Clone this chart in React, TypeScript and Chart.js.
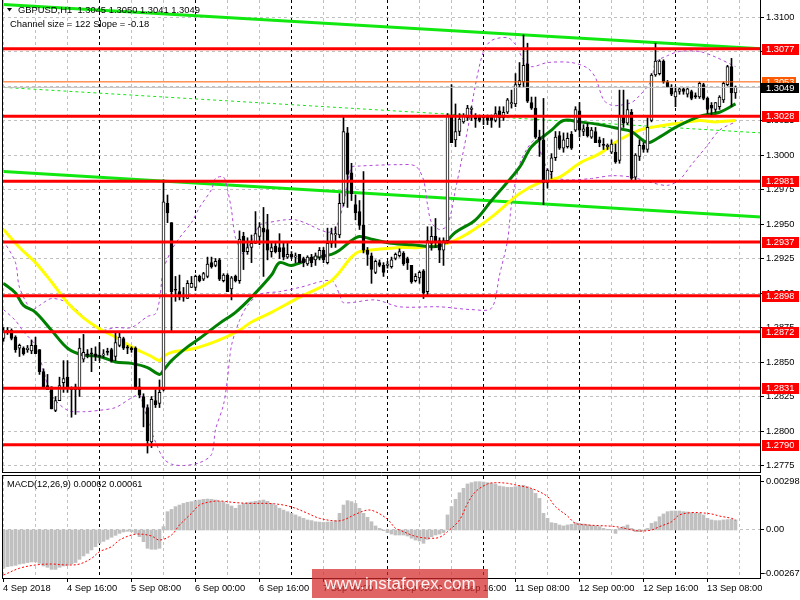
import React, { useEffect, useRef } from "react";
import { Chart, registerables } from "chart.js";

Chart.register(...registerables);

const FONT = '"Liberation Sans", Arial, sans-serif';

// ---------- price data (H1 candles, bar 0 = 4 Sep 00:00) ----------
const OPEN = [
  1.2867, 1.2872, 1.2873, 1.2868, 1.2860, 1.2860, 1.2859, 1.2858, 1.2862, 1.2859,
  1.2843, 1.2833, 1.2832, 1.2815, 1.2822, 1.2835, 1.2839, 1.2831, 1.2832, 1.2830,
  1.2852, 1.2856, 1.2856, 1.2856, 1.2854, 1.2855, 1.2857, 1.2859, 1.2854, 1.2862,
  1.2867, 1.2861, 1.2860, 1.2860, 1.2832, 1.2825, 1.2817, 1.2792, 1.2822, 1.2820,
  1.2830, 1.2965, 1.2951, 1.2902, 1.2901, 1.2898, 1.2896, 1.2904, 1.2904, 1.2912,
  1.2910, 1.2912, 1.2922, 1.2920, 1.2924, 1.2909, 1.2913, 1.2903, 1.2912, 1.2909,
  1.2941, 1.2930, 1.2933, 1.2936, 1.2941, 1.2947, 1.2946, 1.2930, 1.2934, 1.2933,
  1.2933, 1.2926, 1.2928, 1.2926, 1.2928, 1.2925, 1.2921, 1.2926, 1.2924, 1.2926,
  1.2931, 1.2922, 1.2936, 1.2942, 1.2942, 1.2965, 1.3016, 1.2987, 1.2964, 1.2959,
  1.2949, 1.2931, 1.2927, 1.2915, 1.2922, 1.2920, 1.2920, 1.2919, 1.2925, 1.2927,
  1.2929, 1.2925, 1.2920, 1.2909, 1.2911, 1.2916, 1.2901, 1.2936, 1.2941, 1.2938,
  1.2931, 1.2938, 1.3029, 1.3011, 1.3017, 1.3024, 1.3027, 1.3033, 1.3028, 1.3028,
  1.3027, 1.3028, 1.3028, 1.3025, 1.3032, 1.3027, 1.3031, 1.3037, 1.3037, 1.3051,
  1.3053, 1.3066, 1.3038, 1.3034, 1.3013, 1.3011, 1.2980, 1.2988, 1.2998, 1.3014,
  1.3005, 1.3006, 1.3015, 1.3018, 1.3032, 1.3017, 1.3020, 1.3013, 1.3017, 1.3011,
  1.3007, 1.3006, 1.3002, 1.3002, 1.2996, 1.3028, 1.3023, 1.3031, 1.2984, 1.2999,
  1.3007, 1.3004, 1.3025, 1.3058, 1.3059, 1.3068, 1.3053, 1.3049, 1.3042, 1.3046,
  1.3048, 1.3044, 1.3046, 1.3043, 1.3042, 1.3051, 1.3041, 1.3036, 1.3033, 1.3035,
  1.3040, 1.3051, 1.3064, 1.3045,
];
const HIGH = [
  1.2875, 1.2875, 1.2874, 1.2869, 1.2863, 1.2861, 1.2862, 1.2866, 1.2868, 1.2859,
  1.2845, 1.2841, 1.2832, 1.2825, 1.2839, 1.2851, 1.2851, 1.2832, 1.2834, 1.2867,
  1.2870, 1.2859, 1.2860, 1.2861, 1.2864, 1.2859, 1.2860, 1.2860, 1.2871, 1.2871,
  1.2868, 1.2862, 1.2861, 1.2861, 1.2838, 1.2827, 1.2819, 1.2825, 1.2830, 1.2837,
  1.2982, 1.2971, 1.2951, 1.2912, 1.2913, 1.2904, 1.2909, 1.2912, 1.2913, 1.2913,
  1.2915, 1.2926, 1.2926, 1.2925, 1.2925, 1.2914, 1.2914, 1.2912, 1.2913, 1.2945,
  1.2944, 1.2940, 1.2942, 1.2959, 1.2951, 1.2962, 1.2957, 1.2937, 1.2936, 1.2943,
  1.2937, 1.2936, 1.2930, 1.2929, 1.2928, 1.2926, 1.2927, 1.2928, 1.2929, 1.2933,
  1.2933, 1.2947, 1.2947, 1.2948, 1.2972, 1.3028, 1.3020, 1.2994, 1.2971, 1.2967,
  1.2988, 1.2933, 1.2929, 1.2924, 1.2924, 1.2922, 1.2923, 1.2926, 1.2929, 1.2932,
  1.2930, 1.2926, 1.2920, 1.2914, 1.2916, 1.2917, 1.2948, 1.2948, 1.2954, 1.2940,
  1.2940, 1.3030, 1.3051, 1.3037, 1.3030, 1.3030, 1.3036, 1.3035, 1.3030, 1.3029,
  1.3028, 1.3029, 1.3029, 1.3035, 1.3035, 1.3035, 1.3041, 1.3047, 1.3059, 1.3067,
  1.3087, 1.3081, 1.3042, 1.3042, 1.3018, 1.3041, 1.2990, 1.3001, 1.3017, 1.3017,
  1.3016, 1.3016, 1.3017, 1.3035, 1.3038, 1.3022, 1.3023, 1.3020, 1.3020, 1.3013,
  1.3012, 1.3008, 1.3011, 1.3008, 1.3047, 1.3047, 1.3040, 1.3033, 1.3001, 1.3011,
  1.3009, 1.3027, 1.3059, 1.3081, 1.3069, 1.3069, 1.3054, 1.3051, 1.3049, 1.3049,
  1.3049, 1.3049, 1.3047, 1.3045, 1.3053, 1.3052, 1.3042, 1.3038, 1.3038, 1.3043,
  1.3053, 1.3065, 1.3070, 1.3050,
];
const LOW = [
  1.2865, 1.2870, 1.2866, 1.2857, 1.2854, 1.2855, 1.2857, 1.2856, 1.2856, 1.2841,
  1.2831, 1.2830, 1.2816, 1.2814, 1.2822, 1.2828, 1.2828, 1.2810, 1.2812, 1.2825,
  1.2850, 1.2853, 1.2843, 1.2851, 1.2851, 1.2853, 1.2855, 1.2850, 1.2851, 1.2861,
  1.2859, 1.2856, 1.2857, 1.2830, 1.2824, 1.2803, 1.2784, 1.2788, 1.2817, 1.2817,
  1.2829, 1.2951, 1.2872, 1.2894, 1.2895, 1.2894, 1.2896, 1.2904, 1.2902, 1.2908,
  1.2909, 1.2911, 1.2918, 1.2919, 1.2909, 1.2908, 1.2901, 1.2895, 1.2908, 1.2907,
  1.2917, 1.2928, 1.2922, 1.2936, 1.2935, 1.2912, 1.2924, 1.2926, 1.2929, 1.2925,
  1.2924, 1.2925, 1.2925, 1.2922, 1.2922, 1.2919, 1.2920, 1.2919, 1.2920, 1.2924,
  1.2922, 1.2921, 1.2933, 1.2933, 1.2940, 1.2963, 1.2962, 1.2967, 1.2953, 1.2946,
  1.2929, 1.2920, 1.2907, 1.2914, 1.2919, 1.2912, 1.2918, 1.2918, 1.2924, 1.2926,
  1.2920, 1.2917, 1.2907, 1.2908, 1.2907, 1.2896, 1.2898, 1.2931, 1.2933, 1.2922,
  1.2920, 1.2936, 1.3009, 1.3006, 1.3014, 1.3023, 1.3025, 1.3025, 1.3020, 1.3024,
  1.3022, 1.3022, 1.3020, 1.3024, 1.3020, 1.3025, 1.3030, 1.3034, 1.3035, 1.3049,
  1.3049, 1.3038, 1.3033, 1.3012, 1.2999, 1.2964, 1.2976, 1.2983, 1.2996, 1.3004,
  1.3002, 1.3005, 1.3004, 1.3017, 1.3013, 1.3014, 1.3013, 1.3012, 1.3009, 1.3006,
  1.3004, 1.3004, 1.3001, 1.2994, 1.2994, 1.3020, 1.3022, 1.2982, 1.2982, 1.2996,
  1.3002, 1.3002, 1.3024, 1.3057, 1.3058, 1.3052, 1.3049, 1.3043, 1.3035, 1.3044,
  1.3044, 1.3042, 1.3040, 1.3041, 1.3041, 1.3040, 1.3030, 1.3029, 1.3031, 1.3033,
  1.3038, 1.3050, 1.3035, 1.3041,
];
const CLOSE = [
  1.2872, 1.2873, 1.2867, 1.2859, 1.2862, 1.2856, 1.2860, 1.2862, 1.2856, 1.2843,
  1.2832, 1.2830, 1.2816, 1.2822, 1.2833, 1.2838, 1.2831, 1.2830, 1.2830, 1.2860,
  1.2857, 1.2855, 1.2856, 1.2854, 1.2854, 1.2856, 1.2857, 1.2851, 1.2864, 1.2868,
  1.2860, 1.2860, 1.2859, 1.2831, 1.2826, 1.2817, 1.2793, 1.2823, 1.2819, 1.2828,
  1.2966, 1.2958, 1.2901, 1.2902, 1.2897, 1.2897, 1.2907, 1.2907, 1.2912, 1.2909,
  1.2914, 1.2921, 1.2919, 1.2923, 1.2910, 1.2913, 1.2901, 1.2911, 1.2909, 1.2939,
  1.2930, 1.2933, 1.2936, 1.2943, 1.2948, 1.2944, 1.2931, 1.2933, 1.2930, 1.2930,
  1.2926, 1.2928, 1.2926, 1.2927, 1.2922, 1.2922, 1.2926, 1.2922, 1.2927, 1.2931,
  1.2924, 1.2936, 1.2943, 1.2943, 1.2965, 1.3017, 1.2986, 1.2972, 1.2958, 1.2949,
  1.2931, 1.2928, 1.2917, 1.2923, 1.2920, 1.2915, 1.2921, 1.2924, 1.2928, 1.2930,
  1.2921, 1.2922, 1.2908, 1.2912, 1.2915, 1.2900, 1.2938, 1.2941, 1.2937, 1.2931,
  1.2938, 1.3029, 1.3009, 1.3017, 1.3026, 1.3028, 1.3034, 1.3034, 1.3026, 1.3025,
  1.3027, 1.3025, 1.3025, 1.3030, 1.3027, 1.3031, 1.3040, 1.3038, 1.3051, 1.3054,
  1.3065, 1.3039, 1.3034, 1.3013, 1.3011, 1.2980, 1.2989, 1.2998, 1.3013, 1.3005,
  1.3011, 1.3012, 1.3005, 1.3033, 1.3018, 1.3019, 1.3014, 1.3018, 1.3009, 1.3009,
  1.3007, 1.3007, 1.3008, 1.2995, 1.3028, 1.3023, 1.3033, 1.2983, 1.3000, 1.3007,
  1.3004, 1.3020, 1.3058, 1.3068, 1.3068, 1.3053, 1.3049, 1.3044, 1.3046, 1.3048,
  1.3046, 1.3048, 1.3041, 1.3042, 1.3052, 1.3041, 1.3033, 1.3034, 1.3038, 1.3042,
  1.3052, 1.3064, 1.3045, 1.3049,
];

// ---------- indicators: [bar, value] ----------
const SLOW_MA: [number, number][] = [
  [0, 1.2946], [4, 1.2933], [8, 1.2922], [12, 1.2908], [16, 1.2893], [20, 1.2882],
  [24, 1.2874], [28, 1.2868], [32, 1.2861], [37, 1.2854], [39, 1.2851], [40, 1.2854],
  [42, 1.2857], [48, 1.2860], [54, 1.2866], [59, 1.2873], [62, 1.2879], [67, 1.2886],
  [74, 1.2897], [82, 1.2909], [87, 1.2926], [89, 1.2930], [95, 1.2932], [99, 1.2933],
  [104, 1.2933], [111, 1.2936], [116, 1.2943], [122, 1.2955], [129, 1.2972], [134, 1.2980],
  [139, 1.2984], [144, 1.2994], [149, 1.3001], [154, 1.3011], [159, 1.3018], [162, 1.3020],
  [166, 1.3022], [169, 1.3023], [174, 1.3025], [178, 1.3024], [183, 1.3025],
];
const FAST_MA: [number, number][] = [
  [0, 1.2907], [3, 1.2900], [5, 1.2891], [8, 1.2886], [12, 1.2873], [16, 1.2860],
  [20, 1.2855], [24, 1.2854], [28, 1.2850], [32, 1.2849], [36, 1.2846], [39, 1.2841],
  [40, 1.2844], [42, 1.2851], [46, 1.2861], [49, 1.2867], [54, 1.2878], [58, 1.2886],
  [62, 1.2897], [67, 1.2913], [69, 1.2922], [72, 1.2920], [77, 1.2925], [82, 1.2928],
  [84, 1.2931], [87, 1.2938], [89, 1.2941], [92, 1.2939], [97, 1.2936], [102, 1.2935],
  [109, 1.2934], [113, 1.2944], [118, 1.2953], [122, 1.2967], [129, 1.2991], [132, 1.3006],
  [137, 1.3018], [140, 1.3025], [144, 1.3024], [149, 1.3022], [154, 1.3019], [157, 1.3017],
  [161, 1.3009], [164, 1.3013], [168, 1.3020], [174, 1.3028], [179, 1.3031], [183, 1.3037],
];
const BB_UPPER: [number, number][] = [
  [0, 1.2938], [3, 1.2922], [4, 1.2904], [7, 1.2888], [9, 1.2891], [12, 1.2896],
  [16, 1.2893], [20, 1.2883], [24, 1.2873], [28, 1.2875], [32, 1.2875], [36, 1.2883],
  [38, 1.2885], [39, 1.2895], [40, 1.2917], [42, 1.2931], [44, 1.2940], [47, 1.2951],
  [49, 1.2962], [52, 1.2975], [53, 1.2983], [55, 1.2984], [56, 1.2975], [57, 1.2960],
  [58, 1.2940], [60, 1.2928], [62, 1.2938], [64, 1.2949], [66, 1.2951], [73, 1.2953],
  [81, 1.2944], [83, 1.2947], [85, 1.2964], [86, 1.2978], [87, 1.2991], [89, 1.2992],
  [99, 1.2993], [103, 1.2992], [105, 1.2982], [106, 1.2964], [107, 1.2951], [109, 1.2946],
  [111, 1.2949], [113, 1.2975], [116, 1.3018], [118, 1.3051], [120, 1.3075], [122, 1.3083],
  [126, 1.3085], [128, 1.3080], [130, 1.3069], [132, 1.3064], [136, 1.3067], [142, 1.3067],
  [146, 1.3063], [148, 1.3056], [150, 1.3040], [152, 1.3036], [154, 1.3036], [157, 1.3038],
  [159, 1.3043], [162, 1.3054], [163, 1.3067], [166, 1.3072], [169, 1.3075], [174, 1.3075],
  [178, 1.3071], [183, 1.3064],
];
const BB_LOWER: [number, number][] = [
  [0, 1.2888], [3, 1.2880], [5, 1.2872], [8, 1.2862], [10, 1.2844], [12, 1.2826],
  [16, 1.2815], [20, 1.2814], [24, 1.2815], [28, 1.2817], [32, 1.2824], [34, 1.2826],
  [36, 1.2808], [38, 1.2792], [40, 1.2780], [42, 1.2776], [45, 1.2775], [49, 1.2777],
  [52, 1.2783], [53, 1.2801], [55, 1.2819], [56, 1.2838], [57, 1.2862], [59, 1.2880],
  [61, 1.2891], [64, 1.2899], [69, 1.2901], [74, 1.2904], [82, 1.2909], [84, 1.2899],
  [85, 1.2893], [93, 1.2895], [99, 1.2890], [109, 1.2890], [117, 1.2888], [122, 1.2889],
  [124, 1.2913], [126, 1.2938], [127, 1.2964], [129, 1.2993], [131, 1.3005], [133, 1.3011],
  [135, 1.2996], [137, 1.2985], [141, 1.2982], [147, 1.2983], [152, 1.2985], [157, 1.2984],
  [162, 1.2980], [166, 1.2978], [169, 1.2982], [172, 1.2993], [176, 1.3007], [179, 1.3018],
  [183, 1.3024],
];

// ---------- channel & levels ----------
const CHANNEL_UPPER: [number, number][] = [[0, 1.3109], [189.4, 1.3077]];
const CHANNEL_MID: [number, number][] = [[0, 1.3049], [189.4, 1.3016]];
const CHANNEL_LOWER: [number, number][] = [[0, 1.2988], [189.4, 1.2955]];
const LEVELS = [1.3077, 1.3028, 1.2981, 1.2937, 1.2898, 1.2872, 1.2831, 1.279];
const PIVOT_LEVEL = 1.3053;
const BID = 1.3049;
const PRICE_TICKS = [
  1.2775, 1.28, 1.2825, 1.285, 1.2875, 1.29, 1.2925, 1.295, 1.2975, 1.3, 1.3025, 1.305, 1.3075, 1.31,
];

// ---------- MACD ----------
const MACD_HIST = [
  -0.00236, -0.00226, -0.00222, -0.00218, -0.00210, -0.00206, -0.00201, -0.00197, -0.00197, -0.00206,
  -0.00222, -0.00230, -0.00243, -0.00243, -0.00230, -0.00222, -0.00218, -0.00210, -0.00201, -0.00181,
  -0.00160, -0.00144, -0.00123, -0.00103, -0.00082, -0.00070, -0.00058, -0.00045, -0.00033, -0.00021,
  -0.00012, -0.00008, -0.00010, -0.00021, -0.00041, -0.00072, -0.00113, -0.00119, -0.00119, -0.00113,
  0.00021, 0.00113, 0.00127, 0.00144, 0.00154, 0.00164, 0.00171, 0.00175, 0.00181, 0.00185,
  0.00189, 0.00191, 0.00189, 0.00185, 0.00177, 0.00173, 0.00160, 0.00148, 0.00134, 0.00154,
  0.00164, 0.00169, 0.00173, 0.00177, 0.00181, 0.00185, 0.00177, 0.00164, 0.00152, 0.00134,
  0.00123, 0.00113, 0.00103, 0.00093, 0.00082, 0.00072, 0.00062, 0.00058, 0.00051, 0.00049,
  0.00047, 0.00049, 0.00051, 0.00058, 0.00103, 0.00154, 0.00181, 0.00175, 0.00164, 0.00134,
  0.00103, 0.00078, 0.00051, 0.00025, 0.00010, -0.00004, -0.00016, -0.00025, -0.00031, -0.00031,
  -0.00031, -0.00037, -0.00051, -0.00062, -0.00068, -0.00082, -0.00058, -0.00041, -0.00031, -0.00025,
  -0.00016, 0.00093, 0.00144, 0.00189, 0.00230, 0.00257, 0.00284, 0.00292, 0.00298, 0.00298,
  0.00296, 0.00292, 0.00288, 0.00284, 0.00271, 0.00267, 0.00263, 0.00263, 0.00267, 0.00271,
  0.00276, 0.00267, 0.00251, 0.00226, 0.00195, 0.00103, 0.00072, 0.00045, 0.00041, 0.00031,
  0.00025, 0.00031, 0.00035, 0.00045, 0.00041, 0.00037, 0.00033, 0.00029, 0.00025, 0.00021,
  0.00010, 0.00004, 0.00002, -0.00021, 0.00010, 0.00021, 0.00031, 0.00010, -0.00010, -0.00010,
  -0.00004, 0.00010, 0.00041, 0.00051, 0.00082, 0.00099, 0.00113, 0.00117, 0.00117, 0.00117,
  0.00113, 0.00111, 0.00107, 0.00103, 0.00103, 0.00093, 0.00072, 0.00062, 0.00058, 0.00058,
  0.00062, 0.00064, 0.00066, 0.00062,
];
const MACD_SIGNAL: [number, number][] = [
  [0, -0.00278], [4, -0.00236], [8, -0.00216], [12, -0.0021], [16, -0.00216], [19, -0.0021],
  [22, -0.00175], [24, -0.00134], [27, -0.00103], [29, -0.00062], [32, -0.00031], [34, -0.00025],
  [37, -0.00037], [39, -0.00062], [42, -0.00031], [44, 0.00031], [47, 0.00103], [49, 0.00154],
  [52, 0.00175], [54, 0.00179], [58, 0.00169], [62, 0.00164], [66, 0.00164], [70, 0.00154],
  [73, 0.00134], [76, 0.00103], [79, 0.00072], [83, 0.00056], [85, 0.00062], [88, 0.00097],
  [91, 0.00123], [93, 0.00113], [96, 0.00066], [98, 0.0001], [99, 0.0], [102, -0.00031],
  [104, -0.00045], [107, -0.00051], [109, -0.00045], [111, -0.0001], [114, 0.00062], [116, 0.00164],
  [118, 0.00236], [121, 0.00284], [123, 0.00292], [126, 0.00288], [128, 0.00278], [131, 0.00263],
  [133, 0.00247], [136, 0.00206], [138, 0.00144], [141, 0.00086], [143, 0.00041], [146, 0.00031],
  [149, 0.00027], [153, 0.00021], [156, 0.00006], [159, -0.00006], [162, 0.0], [164, 0.00021],
  [167, 0.00051], [169, 0.00093], [172, 0.00107], [174, 0.00107], [177, 0.00099], [179, 0.00086],
  [182, 0.00072], [183, 0.00061],
];
const MACD_AXIS_LABELS = [0.00298, 0, -0.00267];
const MACD_AXIS_TEXT = ["0.00298", "0.00", "-0.00267"];

// ---------- time axis ----------
const TIME_LABELS = [
  "4 Sep 2018", "4 Sep 16:00", "5 Sep 08:00", "6 Sep 00:00", "6 Sep 16:00", "7 Sep 08:00",
  "10 Sep 00:00", "10 Sep 16:00", "11 Sep 08:00", "12 Sep 00:00", "12 Sep 16:00", "13 Sep 08:00",
];
const TIME_LABEL_BARS = [0, 16, 32, 48, 64, 80, 96, 112, 128, 144, 160, 176];
const DAY_START_BARS = [24, 48, 72, 96, 120, 144, 168];

const X_MIN = -0.375;
const X_MAX = 189.375;
const P_MIN = 1.277029;
const P_MAX = 1.311232;
const M_MIN = -0.002961;
const M_MAX = 0.003331;

const LIME = "#10e810";
const PURPLE = "#b048d8";

function strokeLine(ctx: any, x1: number, y1: number, x2: number, y2: number, color: string, dash: number[] = [], width = 1) {
  ctx.save();
  ctx.strokeStyle = color;
  ctx.lineWidth = width;
  ctx.setLineDash(dash);
  ctx.beginPath();
  ctx.moveTo(x1, y1);
  ctx.lineTo(x2, y2);
  ctx.stroke();
  ctx.restore();
}

function drawVerticalGrid(chart: any) {
  const { ctx, chartArea: a, scales } = chart;
  for (let b = 0; b <= 188; b += 8) {
    if (DAY_START_BARS.includes(b)) continue;
    const px = Math.floor(scales.x.getPixelForValue(b)) + 0.5;
    strokeLine(ctx, px, a.top, px, a.bottom, "#c0c0c0", [3, 3]);
  }
  for (const b of DAY_START_BARS) {
    const px = Math.floor(scales.x.getPixelForValue(b)) + 0.5;
    strokeLine(ctx, px, a.top, px, a.bottom, "#000000", [3, 3]);
  }
}

function drawText(ctx: any, text: string, x: number, y: number, color = "#000", size = 9) {
  ctx.save();
  ctx.font = `${size}px ${FONT}`;
  ctx.fillStyle = color;
  ctx.textBaseline = "middle";
  ctx.textAlign = "left";
  ctx.fillText(text, x, y);
  ctx.restore();
}

const mainDecor = {
  id: "mainDecor",
  beforeDatasetsDraw(chart: any) {
    const { ctx, chartArea: a, scales } = chart;
    for (const v of PRICE_TICKS) {
      const py = Math.floor(scales.y.getPixelForValue(v)) + 0.5;
      strokeLine(ctx, a.left, py, a.right, py, "#c0c0c0", [3, 3]);
    }
    drawVerticalGrid(chart);
  },
  afterDatasetsDraw(chart: any) {
    const { ctx, chartArea: a, scales } = chart;
    strokeLine(ctx, a.left + 0.5, a.top, a.left + 0.5, a.bottom + 1, "#000");
    strokeLine(ctx, a.right - 0.5, a.top, a.right - 0.5, a.bottom + 1, "#000");
    strokeLine(ctx, a.left, a.bottom + 0.5, a.right, a.bottom + 0.5, "#000");
    for (const v of PRICE_TICKS) {
      const py = Math.floor(scales.y.getPixelForValue(v)) + 0.5;
      strokeLine(ctx, a.right, py, a.right + 3, py, "#000");
      drawText(ctx, v.toFixed(4), a.right + 5, py, "#000", 9.3);
    }
    for (const p of LEVELS) {
      const py = scales.y.getPixelForValue(p);
      ctx.fillStyle = "#ff0000";
      ctx.fillRect(a.right + 1, Math.round(py) - 5, 37, 11);
      drawText(ctx, p.toFixed(4), a.right + 5, Math.round(py) + 0.5, "#ffffff", 9.3);
    }
    const pv = Math.round(scales.y.getPixelForValue(PIVOT_LEVEL));
    ctx.fillStyle = "#ff5a00";
    ctx.fillRect(a.right + 1, pv - 5, 34, 10);
    drawText(ctx, PIVOT_LEVEL.toFixed(4), a.right + 5, pv, "#ffffff", 9.3);
    const bv = Math.round(scales.y.getPixelForValue(BID));
    ctx.fillStyle = "#000000";
    ctx.fillRect(a.right, bv - 4, 38, 10);
    drawText(ctx, BID.toFixed(4), a.right + 5, bv + 1, "#ffffff", 9.3);
    ctx.save();
    ctx.fillStyle = "#000";
    ctx.beginPath();
    ctx.moveTo(7, 8);
    ctx.lineTo(12, 8);
    ctx.lineTo(9.5, 11.5);
    ctx.closePath();
    ctx.fill();
    ctx.restore();
    drawText(ctx, "GBPUSD,H1  1.3045 1.3050 1.3041 1.3049", 18, 10.5, "#000", 9.4);
    drawText(ctx, "Channel size = 122 Slope = -0.18", 10, 24, "#000", 9.4);
  },
};

const macdDecor = {
  id: "macdDecor",
  beforeDatasetsDraw(chart: any) {
    const { ctx, chartArea: a, scales } = chart;
    drawVerticalGrid(chart);
    const zy = Math.floor(scales.y.getPixelForValue(0)) + 0.5;
    strokeLine(ctx, a.left, zy, a.right, zy, "#c0c0c0", [3, 3]);
  },
  afterDatasetsDraw(chart: any) {
    const { ctx, chartArea: a, scales } = chart;
    strokeLine(ctx, a.left, a.top - 0.5, a.right, a.top - 0.5, "#000");
    strokeLine(ctx, a.left, a.bottom + 0.5, a.right, a.bottom + 0.5, "#000");
    strokeLine(ctx, a.left + 0.5, a.top - 1, a.left + 0.5, a.bottom + 1, "#000");
    strokeLine(ctx, a.right - 0.5, a.top - 1, a.right - 0.5, a.bottom + 1, "#000");
    MACD_AXIS_LABELS.forEach((v, i) => {
      const py = Math.floor(scales.y.getPixelForValue(v)) + 0.5;
      strokeLine(ctx, a.right, py, a.right + 3, py, "#000");
      drawText(ctx, MACD_AXIS_TEXT[i], v < 0 ? a.right + 2 : a.right + 5, py, "#000", 9.3);
    });
    TIME_LABEL_BARS.forEach((b, i) => {
      const px = Math.floor(scales.x.getPixelForValue(b)) + 0.5;
      strokeLine(ctx, px, a.bottom, px, a.bottom + 4, "#000");
      drawText(ctx, TIME_LABELS[i], px - 0.5, a.bottom + 10.5, "#000", 9.3);
    });
    drawText(ctx, "MACD(12,26,9) 0.00062 0.00061", 7, 10, "#000", 9.2);
  },
};

export default function App() {
  const mainRef = useRef<HTMLCanvasElement>(null);
  const macdRef = useRef<HTMLCanvasElement>(null);

  useEffect(() => {
    const bars = OPEN.map((_, i) => i);
    const pts = (arr: [number, number][]) => arr.map(([x, y]) => ({ x, y }));
    const hline = (p: number) => [{ x: X_MIN, y: p }, { x: X_MAX, y: p }];

    const lineDefaults = { type: "line", pointRadius: 0, fill: false };

    const main = new Chart(mainRef.current as HTMLCanvasElement, {
      type: "bar",
      data: {
        datasets: [
          { ...lineDefaults, data: pts(CHANNEL_UPPER), borderColor: LIME, borderWidth: 3, order: 80 },
          { ...lineDefaults, data: pts(CHANNEL_LOWER), borderColor: LIME, borderWidth: 3, order: 80 },
          { ...lineDefaults, data: pts(CHANNEL_MID), borderColor: LIME, borderWidth: 1, borderDash: [3, 3], order: 80 },
          { ...lineDefaults, data: pts(BB_UPPER), borderColor: PURPLE, borderWidth: 1, borderDash: [3, 3], tension: 0.3, order: 70 },
          { ...lineDefaults, data: pts(BB_LOWER), borderColor: PURPLE, borderWidth: 1, borderDash: [3, 3], tension: 0.3, order: 70 },
          { ...lineDefaults, data: pts(SLOW_MA), borderColor: "#ffff00", borderWidth: 3, tension: 0.35, order: 60 },
          { ...lineDefaults, data: pts(FAST_MA), borderColor: "#008000", borderWidth: 3, tension: 0.35, order: 50 },
          {
            type: "bar",
            data: bars.map((i) => ({ x: i, y: [LOW[i], HIGH[i]] })),
            backgroundColor: "#000000",
            barThickness: 1,
            grouped: false,
            order: 40,
          },
          {
            type: "bar",
            data: bars.map((i) => ({ x: i, y: [OPEN[i], CLOSE[i]] })),
            backgroundColor: bars.map((i) => (CLOSE[i] > OPEN[i] ? "#ffffff" : "#000000")),
            borderColor: "#000000",
            borderWidth: 1,
            borderSkipped: false,
            barThickness: 3,
            minBarLength: 1,
            grouped: false,
            order: 30,
          },
          { ...lineDefaults, data: hline(BID), borderColor: "#c0c0c0", borderWidth: 1, order: 25 },
          { ...lineDefaults, data: hline(PIVOT_LEVEL), borderColor: "#ff5a00", borderWidth: 1, order: 20 },
          ...LEVELS.map((p) => ({ ...lineDefaults, data: hline(p), borderColor: "#ff0000", borderWidth: 3, order: 10 })),
        ] as any,
      },
      options: {
        animation: false,
        responsive: false,
        devicePixelRatio: 1,
        events: [],
        layout: { padding: { left: 2, right: 39, top: 0, bottom: 2 } },
        plugins: { legend: { display: false }, tooltip: { enabled: false } },
        scales: {
          x: { type: "linear", min: X_MIN, max: X_MAX, offset: false, display: false },
          y: { type: "linear", min: P_MIN, max: P_MAX, display: false },
        },
      } as any,
      plugins: [mainDecor],
    });

    const macd = new Chart(macdRef.current as HTMLCanvasElement, {
      type: "bar",
      data: {
        datasets: [
          {
            type: "bar",
            data: bars.map((i) => ({ x: i, y: MACD_HIST[i] })),
            backgroundColor: "#c0c0c0",
            barThickness: 3,
            grouped: false,
            order: 20,
          },
          {
            type: "line",
            data: pts(MACD_SIGNAL),
            borderColor: "#ff0000",
            borderWidth: 1,
            borderDash: [2, 2],
            pointRadius: 0,
            tension: 0.35,
            order: 10,
          },
        ] as any,
      },
      options: {
        animation: false,
        responsive: false,
        devicePixelRatio: 1,
        events: [],
        layout: { padding: { left: 2, right: 39, top: 2, bottom: 22 } },
        plugins: { legend: { display: false }, tooltip: { enabled: false } },
        scales: {
          x: { type: "linear", min: X_MIN, max: X_MAX, offset: false, display: false },
          y: { type: "linear", min: M_MIN, max: M_MAX, display: false },
        },
      } as any,
      plugins: [macdDecor],
    });

    return () => {
      main.destroy();
      macd.destroy();
    };
  }, []);

  return (
    <div
      style={{
        position: "fixed",
        left: 0,
        top: 0,
        width: 800,
        height: 600,
        background: "#ffffff",
        overflow: "hidden",
      }}
    >
      <canvas
        ref={mainRef}
        width={800}
        height={474}
        style={{ position: "absolute", left: 0, top: 0, width: 800, height: 474, display: "block" }}
      />
      <canvas
        ref={macdRef}
        width={800}
        height={126}
        style={{ position: "absolute", left: 0, top: 474, width: 800, height: 126, display: "block" }}
      />
      <div
        style={{
          position: "absolute",
          left: 312,
          top: 569,
          width: 176,
          height: 29,
          background: "rgba(212, 40, 40, 0.72)",
          color: "rgba(255, 255, 255, 0.92)",
          font: `17px ${FONT}`,
          lineHeight: "29px",
          textAlign: "center",
        }}
      >
        www.instaforex.com
      </div>
    </div>
  );
}
